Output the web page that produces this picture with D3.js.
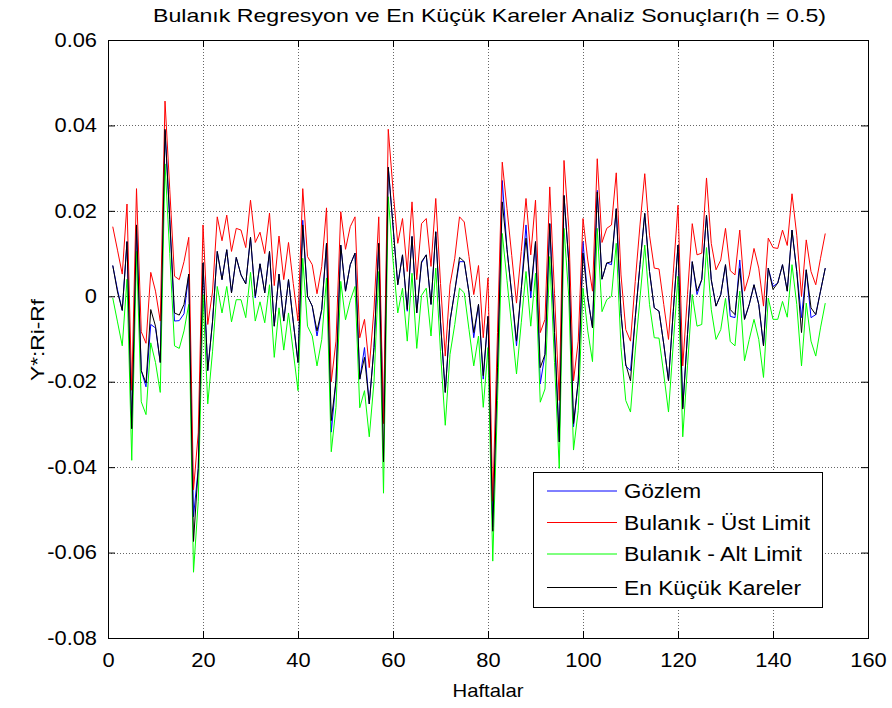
<!DOCTYPE html>
<html>
<head>
<meta charset="utf-8">
<script src="https://cdn.jsdelivr.net/npm/d3@7"></script>
<style>
  body { margin: 0; background: #fff; }
  text { font-family: "Liberation Sans", Arial, sans-serif; fill: #000; }
</style>
</head>
<body>
<div id="chart"></div>
<script>
// values in thousandths, weeks 1..151
var gozlem = [7.2,1.5,-3.3,12.8,-31,16.7,-17.4,-21.2,-6.6,-7.4,-15.5,38.8,18,-5.8,-5.7,-4.1,5.2,-51.6,-40.3,7.8,
  -17.4,-6,10.5,3.9,10.9,0.8,9.1,5,2.9,13.8,-0.4,7.6,0.8,10.5,-7,5.2,-5.8,3.9,-6,-15.5,
  17.8,0,-2.3,-9.3,-3.1,12.4,-31.8,-19.8,12,1.2,7.4,10.1,-19.4,-12,-25.2,-12,12.4,-29.5,30.2,16.5,
  2.7,9.7,-3.5,14,-3.9,7.8,9.7,-1.9,15.1,-6,-22.5,-5.8,1.2,8.1,8.1,0.8,-9.7,-1.9,-19.4,-4.7,
  -54,-16.7,27.1,11,0.4,-11.6,1.6,16.7,-0.4,12.8,-20.5,-13.6,17,-8.5,-34.1,23.6,8,-30.6,-19.8,12.8,
  -0.4,-7.4,24.8,4,7.8,7.4,20.5,-4,-16.3,-17.4,-5,7.4,19.4,5.8,-2.7,-3.5,-11.2,-19.8,-3.5,12,
  -26,-8.9,8.1,0.4,3.9,19,3.9,-2.3,0.4,7.4,-4.7,-5,8.5,-5.4,-1.9,2.7,-1.9,-11.6,6.6,2.3,
  3.1,7.4,1.2,15.5,5.8,-5,6.2,-5,-4.3,1.2,6.6];
var ustLimit = [16.3,10.8,5.2,21.6,-22,25.2,-8.3,-11,5.6,1.2,-5.8,45.7,25,4.7,3.9,8.1,13.8,-45.3,-32,16.7,
  -6.6,1,18.6,13,19,10.5,15.9,15.5,11.4,22.5,12.6,15,10,19.5,2.5,14.1,3.9,12.6,3,-5.8,
  25.2,9.3,7.4,0.6,7,20.7,-20,-10.5,19.8,11,16.3,18.6,-9.7,-5.4,-16.7,-3,18.6,-29.8,39.1,25,
  12.4,18.2,5.8,22.1,3.9,17,18.2,7,22.9,3,-14,2.7,8.9,18.6,17.4,9.3,0.4,7.2,-9.7,4.3,
  -48,-8.5,31.4,20.5,9.5,-1.6,10.5,22.9,9.7,22.5,-8.5,-5.4,25.6,0.6,-24.4,31.8,16,-19.8,-10.5,18.2,
  8.5,1.2,32.2,12.6,15.9,16.7,28.9,5,-7.8,-10.5,3.5,16.7,28.7,14.3,6.6,6.4,-1.9,-10.1,5.4,21.3,
  -16.3,0.4,17,9.7,10.1,27.7,12.4,6.2,8.5,15.9,6,5,15.5,1.2,5,11.2,6.6,-2.3,13.6,11.4,
  11.2,15.5,11.9,24,14.3,0,13.2,5.8,2.7,8.9,14.7];
var altLimit = [-0.4,-6,-11.6,4,-38.4,10.5,-24.7,-27.7,-10.9,-15.5,-22.5,31,10,-11.6,-12.2,-8.1,-1.9,-64.6,-48,0.4,
  -25.2,-13,2.3,-3.9,2.3,-6,-0.8,-0.8,-5,5.6,-5.8,-1.3,-6.2,2.7,-14.3,-2.7,-12.6,-3.9,-13,-22.1,
  8.9,-7,-9.3,-16.3,-10.1,4.3,-36.4,-26,3.5,-5.5,-1,2.3,-26.1,-22.1,-32.9,-20,5.8,-46.1,23.3,8.5,
  -3.9,1.9,-10.5,5.4,-12.2,0.2,1.9,-9.3,6.6,-13,-30.2,-13.6,-6.6,1.9,0.8,-7.8,-16.3,-9.3,-26,-12,
  -62,-24.4,14.7,3.7,-7.2,-18.2,-6.2,5.8,-7,5.4,-24.8,-21.7,9.3,-15.5,-40.3,15.9,0,-36,-26.7,1.9,
  -8.1,-15.3,15.9,-3.6,-0.8,0,12.4,-12,-24.4,-27.1,-12.8,-0.4,12,-1.9,-9.7,-9.8,-18.2,-27.1,-11.2,4.7,
  -32.9,-16.3,0.4,-7,-6.6,11.4,-3.1,-10.1,-7.8,-0.5,-10.6,-11.6,1.2,-15.1,-10.1,-5.4,-10.1,-19,-0.4,-5.4,
  -5.4,-1.2,-4.9,7.4,-1.9,-16.3,-1.6,-10.5,-14,-7.4,-1.6];
var enKucuk = [7.2,1,-3.3,12.8,-31,16.7,-17.4,-20.3,-3.1,-7,-15.5,39.1,18,-3.9,-4.4,-1.9,5.2,-57.4,-40.3,7.8,
  -17.4,-6,10.5,3.9,10.9,0.8,9.1,5,2.9,13.8,0,7.6,0.8,10.5,-7,5.2,-5.8,3.9,-6,-15.5,
  16.7,0,-2.3,-8.1,-3.1,12.4,-29.1,-19.8,12,1.2,7.4,10.1,-19.4,-14.3,-25.2,-12,12.4,-38.8,30.2,16.5,
  2.7,9.7,-3.1,14,-3.9,8.1,9.7,-1.9,15.1,-6,-22.5,-5.8,1.2,9.1,8.1,0.8,-8.5,-1.9,-18.6,-4.7,
  -55,-16.7,22.1,11,0.4,-10.5,1.6,13.6,1.2,12.8,-16.7,-13.6,17,-8.5,-34.1,23.6,8,-29.8,-19.8,10.1,
  -0.4,-7.4,24.4,4,7.8,8.1,20.5,-4,-15.9,-19.8,-5,7.4,19.4,5.8,-2.7,-3.5,-11.2,-19.8,-3.5,12,
  -26.4,-8.9,8.1,1.2,3.9,19,3.9,-2.3,0.4,7.4,-3.1,-4.3,6.5,-5.4,-1.9,2.7,-1.9,-11.6,6.6,1.6,
  3.1,7.4,1.2,15.5,5.8,-8.5,6.2,-2.7,-4.3,1.2,6.6];

var seriesNames = ["Gözlem", "Bulanık - Üst Limit", "Bulanık - Alt Limit", "En Küçük Kareler"];
var seriesColors = ["#0000ff", "#ff0000", "#00ff00", "#000000"];
var xTicks = [0, 20, 40, 60, 80, 100, 120, 140, 160];
var yTicks = [-0.08, -0.06, -0.04, -0.02, 0, 0.02, 0.04, 0.06];

var width = 892, height = 708;
var plotL = 108, plotR = 868, plotT = 40, plotB = 638;

var svg = d3.select("#chart").append("svg").attr("width", width).attr("height", height);

var x = d3.scaleLinear().domain([0, 160]).range([plotL, plotR]);
var y = d3.scaleLinear().domain([-0.08, 0.06]).range([plotB, plotT]);

// dotted grid
svg.append("g").selectAll("line").data(xTicks.slice(1, -1)).enter().append("line")
  .attr("x1", function(d) { return Math.round(x(d)) + 0.5; }).attr("x2", function(d) { return Math.round(x(d)) + 0.5; })
  .attr("y1", plotT).attr("y2", plotB)
  .attr("stroke", "#666").attr("stroke-dasharray", "1,2");
svg.append("g").selectAll("line").data(yTicks.slice(1, -1)).enter().append("line")
  .attr("y1", function(d) { return Math.round(y(d)) + 0.5; }).attr("y2", function(d) { return Math.round(y(d)) + 0.5; })
  .attr("x1", plotL).attr("x2", plotR)
  .attr("stroke", "#666").attr("stroke-dasharray", "1,2");

// lines
var all = [gozlem, ustLimit, altLimit, enKucuk];
var line = d3.line()
  .x(function(d, i) { return x(i + 1); })
  .y(function(d) { return y(d / 1000); });
all.forEach(function(s, k) {
  svg.append("path").datum(s).attr("d", line)
    .attr("fill", "none").attr("stroke", seriesColors[k]).attr("stroke-width", 1);
});

// axes with inward ticks on all four sides
var fmtY = function(d) { return d === 0 ? "0" : d3.format(".2f")(d).replace("−", "-"); };
svg.append("g").attr("transform", "translate(0," + plotB + ")")
  .call(d3.axisBottom(x).tickValues(xTicks).tickSize(-7).tickPadding(15))
  .call(function(g) { g.select(".domain").remove(); });
svg.append("g").attr("transform", "translate(0," + plotT + ")")
  .call(d3.axisTop(x).tickValues(xTicks).tickSize(-7).tickFormat(""))
  .call(function(g) { g.select(".domain").remove(); });
svg.append("g").attr("transform", "translate(" + plotL + ",0)")
  .call(d3.axisLeft(y).tickValues(yTicks).tickSize(-7).tickPadding(11).tickFormat(fmtY))
  .call(function(g) { g.select(".domain").remove(); });
svg.append("g").attr("transform", "translate(" + plotR + ",0)")
  .call(d3.axisRight(y).tickValues(yTicks).tickSize(-7).tickFormat(""))
  .call(function(g) { g.select(".domain").remove(); });
svg.selectAll(".tick line").attr("stroke", "#000");
svg.selectAll(".tick text").attr("font-size", 19.5).attr("font-family", "Liberation Sans, Arial, sans-serif").attr("fill", "#000")
  .each(function() {
    var w = this.getComputedTextLength();
    if (w > 0) d3.select(this).attr("textLength", w * 1.12).attr("lengthAdjust", "spacingAndGlyphs");
  });

svg.append("rect").attr("x", plotL + 0.5).attr("y", plotT + 0.5)
  .attr("width", plotR - plotL).attr("height", plotB - plotT)
  .attr("fill", "none").attr("stroke", "#000");

// title and axis labels
svg.append("text").attr("x", 489.5).attr("y", 22).attr("text-anchor", "middle")
  .attr("font-size", 19).attr("textLength", 673).attr("lengthAdjust", "spacingAndGlyphs")
  .text("Bulanık Regresyon ve En Küçük Kareler Analiz Sonuçları(h = 0.5)");
svg.append("text").attr("x", 488).attr("y", 697).attr("text-anchor", "middle")
  .attr("font-size", 19).attr("textLength", 71).attr("lengthAdjust", "spacingAndGlyphs")
  .text("Haftalar");
svg.append("text").attr("transform", "translate(44,340) rotate(-90)").attr("text-anchor", "middle")
  .attr("font-size", 19).attr("textLength", 82).attr("lengthAdjust", "spacingAndGlyphs")
  .text("Y*:Ri-Rf");

// legend
var legend = svg.append("g");
legend.append("rect").attr("x", 533.5).attr("y", 472.5).attr("width", 289).attr("height", 135)
  .attr("fill", "#fff").attr("stroke", "#000");
var rows = [491, 522.5, 554, 587.5];
var textWidths = [77, 186, 178, 177];
seriesNames.forEach(function(name, k) {
  legend.append("line").attr("x1", 547).attr("x2", 617)
    .attr("y1", rows[k]).attr("y2", rows[k]).attr("stroke", seriesColors[k]);
  legend.append("text").attr("x", 624).attr("y", rows[k] + 7)
    .attr("font-size", 20).attr("textLength", textWidths[k]).attr("lengthAdjust", "spacingAndGlyphs")
    .text(name);
});
</script>
</body>
</html>
